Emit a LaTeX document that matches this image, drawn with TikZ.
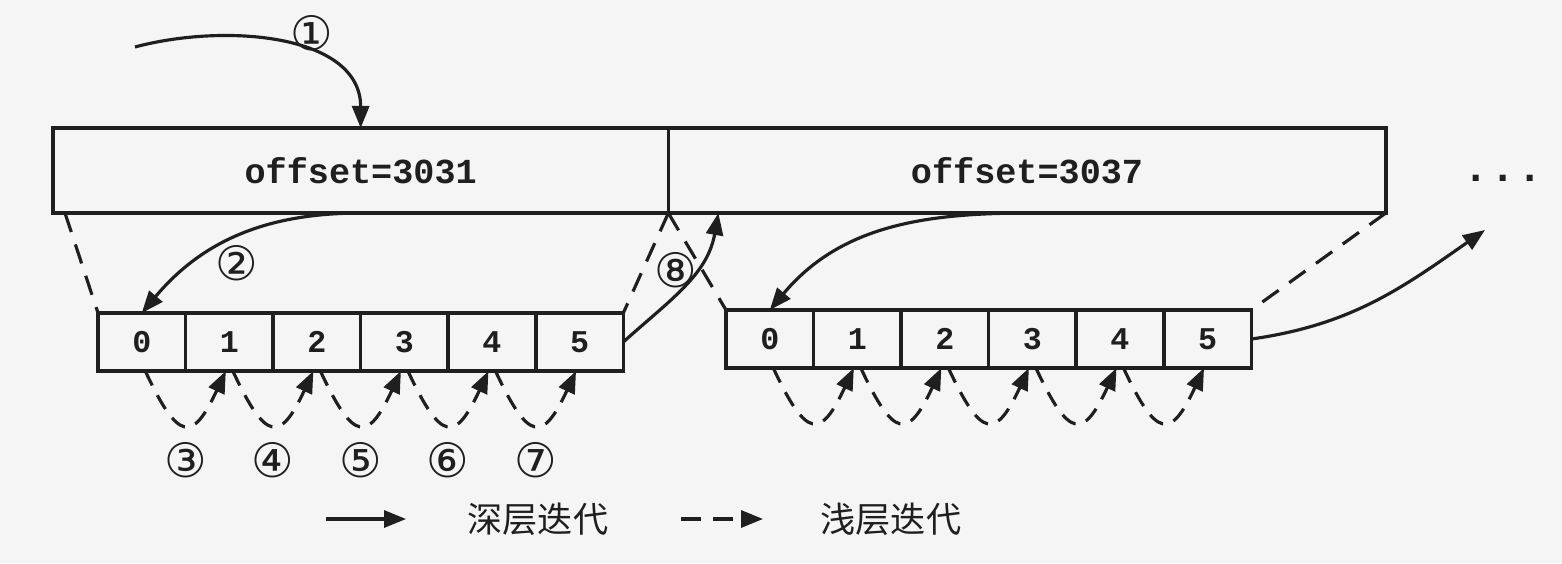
\documentclass[tikz,border=0pt]{standalone}
\usepackage{fontspec}
\usetikzlibrary{arrows.meta,positioning}
\newfontfamily\codefont{Liberation Mono}
\newfontfamily\cjkfont{Noto Sans CJK SC}
\newfontfamily\circfont{DejaVu Sans}

\begin{document}
\begin{tikzpicture}[x=0.01cm, y=0.01cm,
          line width=0.9pt, color=black!88,
          deep/.style = {draw, -{Triangle[length=2.2mm,width=1.7mm]}},
          shallow/.style = {deep, dash pattern=on 1.6mm off 1.1mm},
          gapline/.style = {draw, dash pattern=on 2mm off 1.3mm},
          blk/.style = {draw, line width=1pt, minimum height=0.85cm, inner sep=0pt,
          outer sep=0pt, font=\codefont\bfseries\fontsize{10}{12}\selectfont},
          cell/.style = {draw, line width=1pt, minimum width=0.875cm, minimum height=0.58cm,
          inner sep=0pt, outer sep=0pt, font=\codefont\bfseries\fontsize{9}{11}\selectfont},
          stepno/.style = {inner sep=0pt, font=\circfont\fontsize{13.5}{15}\selectfont},
          legtxt/.style = {inner sep=0pt, font=\cjkfont\fontsize{10}{12}\selectfont}
          ]
  \fill[black!4] (0,0) rectangle (1562,-563);
  \useasboundingbox (0,0) rectangle (1562,-563);

  % offset blocks
  \node[blk, minimum width=6.15cm, anchor=north west] (blkA) at (53,-128) {offset=3031};
  \node[blk, minimum width=7.17cm, right=0pt of blkA] (blkB) {offset=3037};
  \node[inner sep=0pt, font=\codefont\bfseries\fontsize{12}{14}\selectfont] (more) at (1503,-178)
    {.\hspace{0.5pt}.\hspace{0.5pt}.};

  % cells
  \node[cell, anchor=north west] (a0) at (98,-313) {0};
  \foreach \i [count=\j from 0] in {1,...,5}
    \node[cell, right=0pt of a\j] (a\i) {\i};
  \node[cell, anchor=north west] (b0) at (726,-310) {0};
  \foreach \i [count=\j from 0] in {1,...,5}
    \node[cell, right=0pt of b\j] (b\i) {\i};

  % borders of each block
  \draw[gapline] ([xshift=0.12cm]blkA.south west) -- (a0.north west);
  \draw[gapline] (blkA.south east) -- (a5.north east);
  \draw[gapline] (blkA.south east) -- (b0.north west);
  \draw[gapline] (blkB.south east) -- (b5.north east);

  % deep steps
  \coordinate (start) at (135,-47);
  \coordinate (back) at ([xshift=0.5cm]blkB.south west);
  \coordinate (next) at (1485,-230);
  \draw[deep] (start) to[out=15,in=90] (blkA.north);
  \draw[deep] (blkA.south) to[out=180,in=50] (a0.north);
  \draw[deep] (a5.east) to[out=42,in=-100] (back);
  \draw[deep] (blkB.south) to[out=180,in=50] (b0.north);
  \draw[deep] (b5.east) to[out=8,in=-145] (next);
  \node[stepno] (s1) at (312,-33) {①};
  \node[stepno] (s2) at (237,-263) {②};
  \node[stepno] (s8) at (676,-270) {⑧};

  % shallow steps
  \foreach \i/\j/\s in {0/1/③,1/2/④,2/3/⑤,3/4/⑥,4/5/⑦}
    \draw[shallow] ([xshift=1pt]a\i.south) to[out=-65,in=-115,looseness=2.5]
      node[stepno, below=0.16cm] (lbl\i) {\s} ([xshift=-1pt]a\j.south);
  \foreach \i [count=\j] in {0,...,4}
    \draw[shallow] ([xshift=1pt]b\i.south) to[out=-65,in=-115,looseness=2.5]
      ([xshift=-1pt]b\j.south);

  % legend
  \node[legtxt] (legA) at (538,-519) {深层迭代};
  \node[legtxt] (legB) at (891,-519) {浅层迭代};
  \coordinate[left=1.4cm of legA] (legA0);
  \coordinate[left=0.6cm of legA] (legA1);
  \coordinate[left=1.38cm of legB] (legB0);
  \coordinate[left=0.56cm of legB] (legB1);
  \draw[deep] (legA0) -- (legA1);
  \draw[deep, dash pattern=on 2mm off 1.2mm] (legB0) -- (legB1);
\end{tikzpicture}
\end{document}
